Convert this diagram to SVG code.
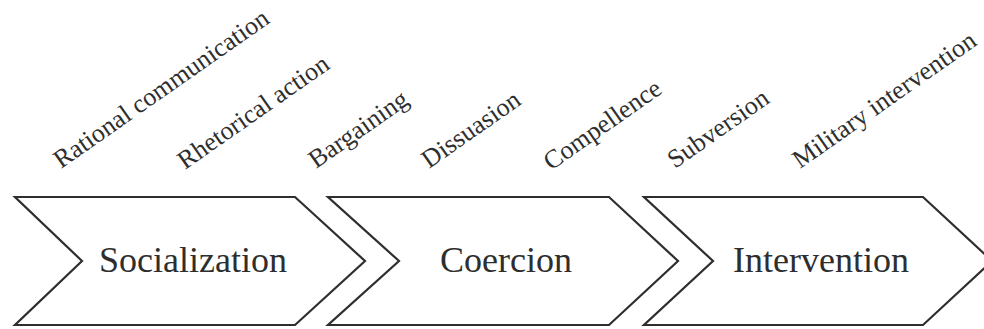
<svg xmlns="http://www.w3.org/2000/svg" width="984" height="329" viewBox="0 0 984 329">
<style>
.chev{fill:#fff;stroke:#2e2e2e;stroke-width:2.2;stroke-linejoin:miter}
.main{font-family:"Liberation Serif","Times New Roman",serif;font-size:36px;fill:#2e2e2e;text-anchor:middle}
.lab{font-family:"Liberation Serif","Times New Roman",serif;font-size:26px;fill:#2e2e2e}
</style>
<rect width="984" height="329" fill="#fff"/>
<g id="socialization">
<polygon class="chev" points="15,197 295,197 365,261 295,325 15,325 82,261"/>
<text class="main" x="193" y="272">Socialization</text>
</g>
<g id="coercion">
<polygon class="chev" points="328,197 609,197 678,261 609,325 328,325 399,261"/>
<text class="main" x="506" y="272">Coercion</text>
</g>
<g id="intervention">
<polygon class="chev" points="644,197 923,197 992,261 923,325 644,325 713,261"/>
<text class="main" x="821" y="272">Intervention</text>
</g>
<g id="labels">
<text class="lab" transform="translate(61,169) rotate(-35)">Rational communication</text>
<text class="lab" transform="translate(185,170) rotate(-35)">Rhetorical action</text>
<text class="lab" transform="translate(316,169) rotate(-35)">Bargaining</text>
<text class="lab" transform="translate(429,169) rotate(-35)">Dissuasion</text>
<text class="lab" transform="translate(551,171) rotate(-35)">Compellence</text>
<text class="lab" transform="translate(675,169) rotate(-35)">Subversion</text>
<text class="lab" transform="translate(800,169) rotate(-35)">Military intervention</text>
</g>
<g id="connectors"></g>
</svg>
